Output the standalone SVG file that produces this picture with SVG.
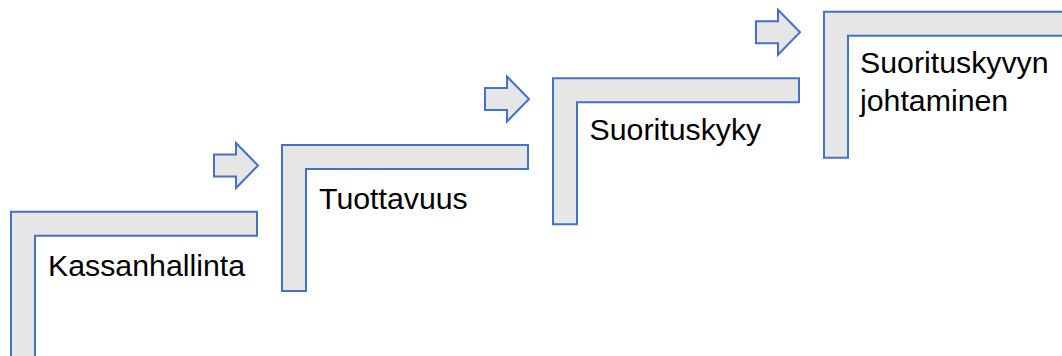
<svg xmlns="http://www.w3.org/2000/svg" width="1062" height="356" viewBox="0 0 1062 356">
  <style>
    .step { fill: #E7E6E6; stroke: #4472C4; stroke-width: 2; stroke-linejoin: miter; }
    .arrow { fill: #E7E6E6; stroke: #4472C4; stroke-width: 2; stroke-linejoin: miter; }
    .label { font-family: "Liberation Sans", Arial, sans-serif; font-size: 30.3px; fill: #000; }
  </style>
  <defs>
    <!-- L-shaped step bracket: top bar plus left post -->
    <path id="stair" d="M0,0 H246 V24 H24 V146 H0 Z"/>
    <!-- block arrow pointing right -->
    <path id="blockArrow" d="M0,0 H22 V-11.5 L44,11 L22,33.5 V22 H0 Z"/>
  </defs>
  <rect width="1062" height="356" fill="#FFFFFF"/>

  <g id="step-kassanhallinta" transform="translate(11,211.7)">
    <use href="#stair" class="step"/>
    <text class="label" x="37" y="64">Kassanhallinta</text>
  </g>

  <g id="step-tuottavuus" transform="translate(282,145)">
    <use href="#stair" class="step"/>
    <text class="label" x="37" y="63.5">Tuottavuus</text>
  </g>

  <g id="step-suorituskyky" transform="translate(553,78.3)">
    <use href="#stair" class="step"/>
    <text class="label" x="36.5" y="62">Suorituskyky</text>
  </g>

  <g id="step-johtaminen" transform="translate(824,11.7)">
    <use href="#stair" class="step"/>
    <text class="label" x="36" y="61.6">Suorituskyvyn</text>
    <text class="label" x="36" y="99.3">johtaminen</text>
  </g>

  <g id="connectors">
    <use href="#blockArrow" class="arrow" x="214" y="154.5"/>
    <use href="#blockArrow" class="arrow" x="485" y="88"/>
    <use href="#blockArrow" class="arrow" x="756" y="21.3"/>
  </g>
</svg>
